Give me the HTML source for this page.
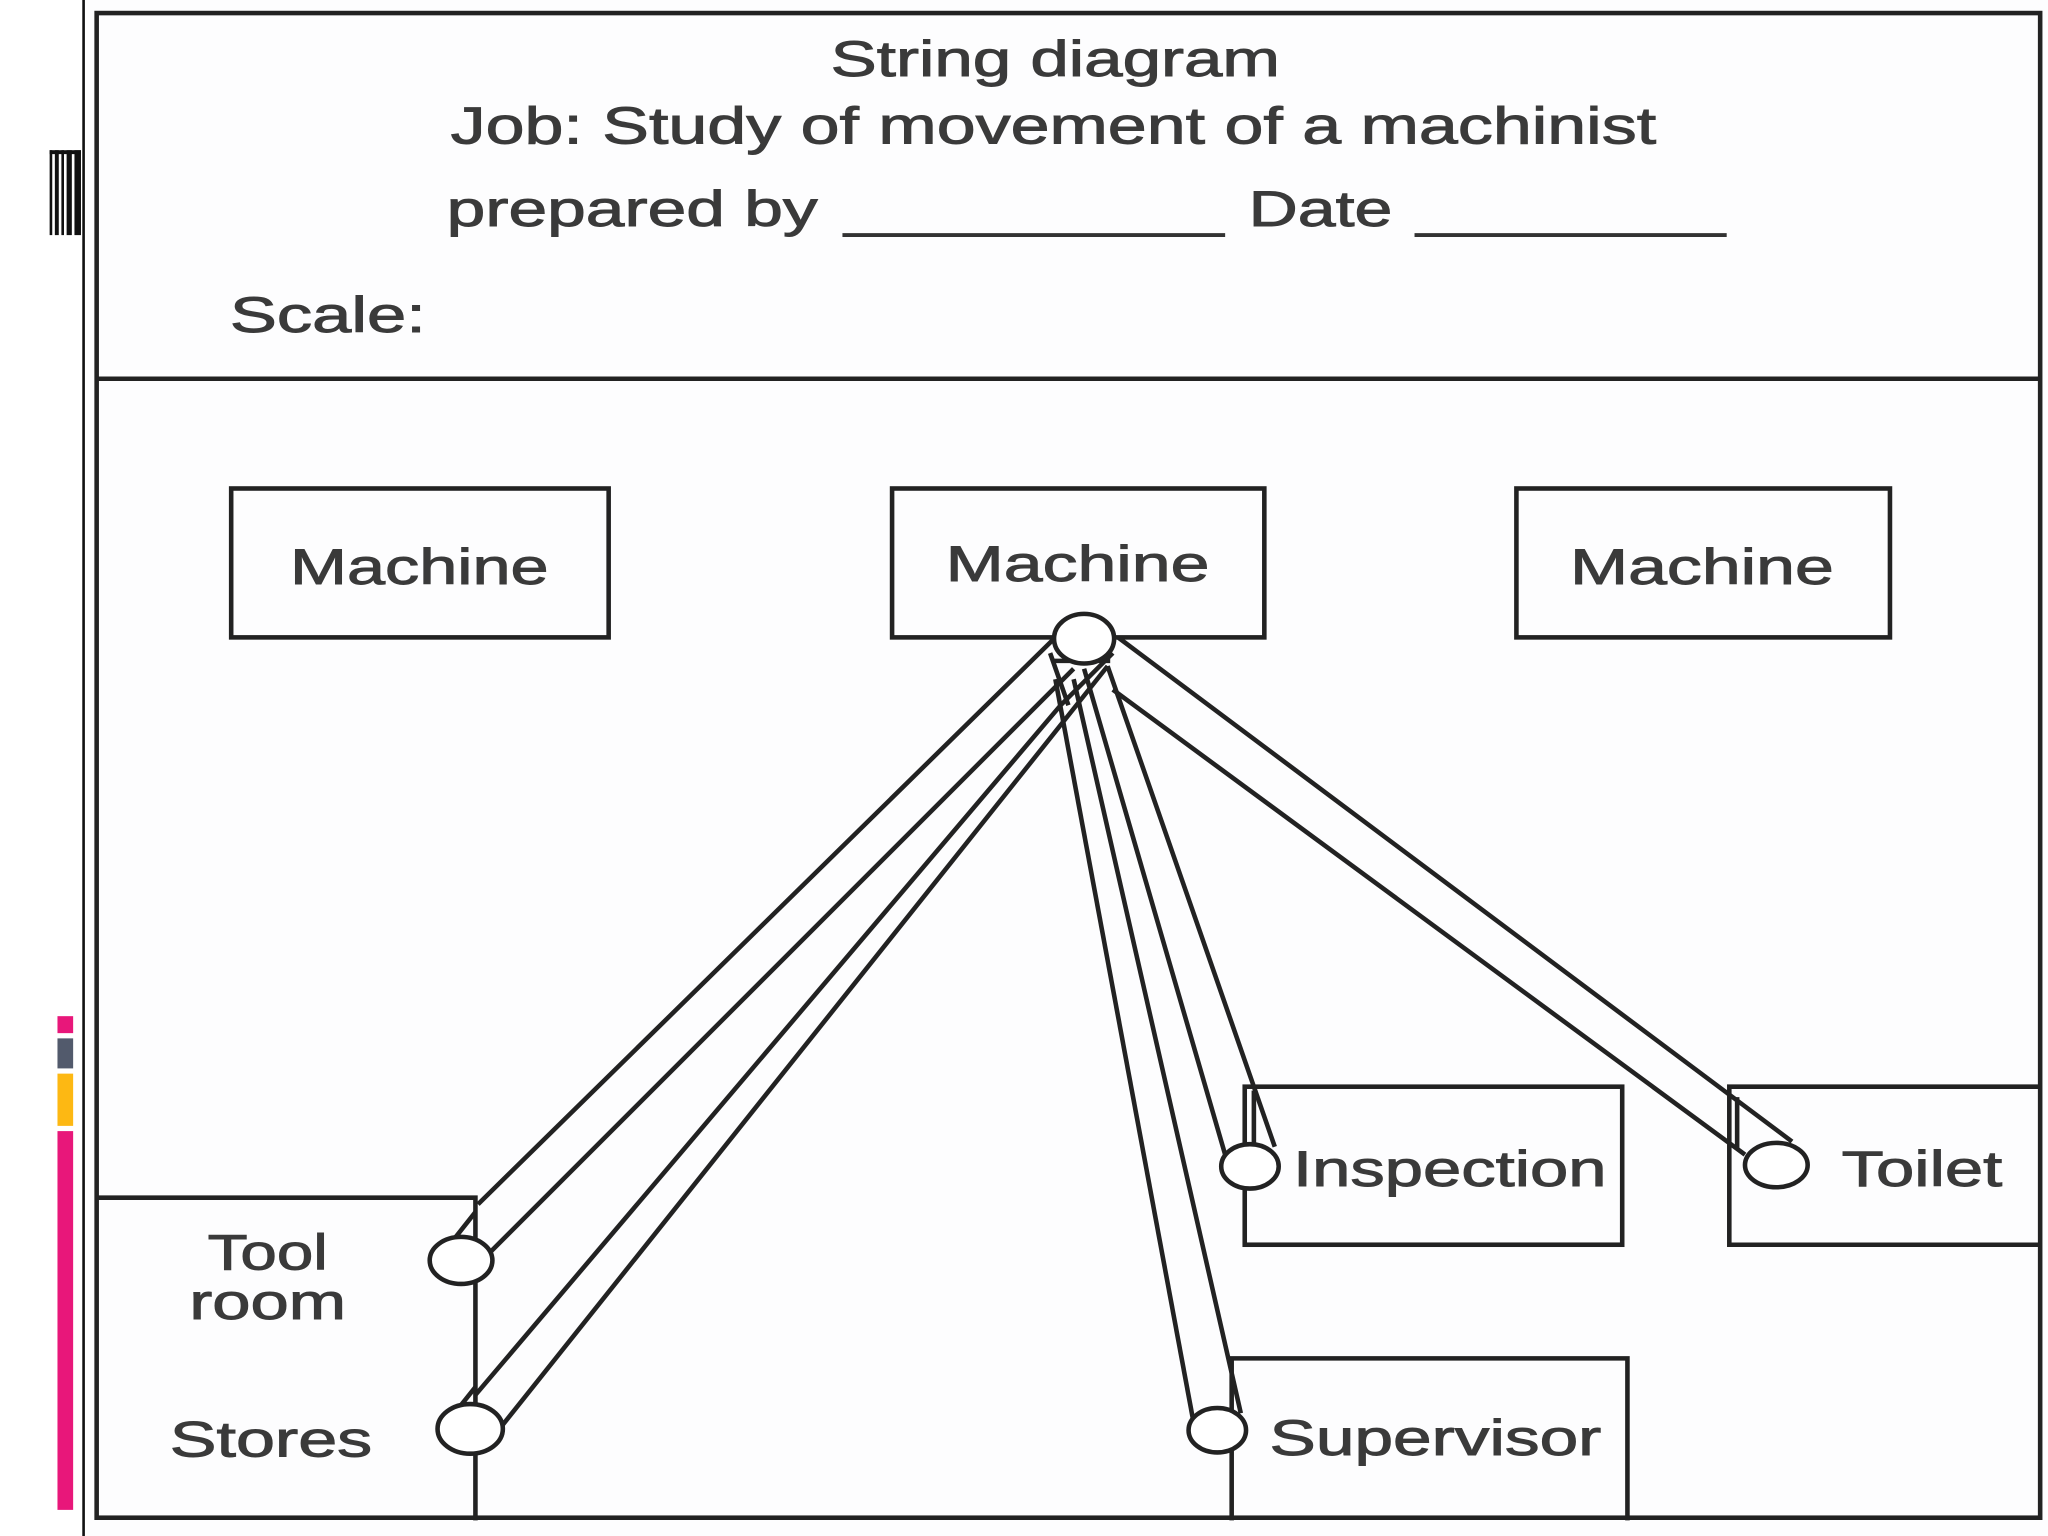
<!DOCTYPE html>
<html><head><meta charset="utf-8"><style>
html,body{margin:0;padding:0;background:#fff;}
svg{display:block;}
text{font-family:"Liberation Sans",Arial,sans-serif;fill:#3a3a3a;stroke:#3a3a3a;stroke-width:0.7;}
</style></head><body>
<svg width="2048" height="1536" viewBox="0 0 1568 1176" preserveAspectRatio="none" xmlns="http://www.w3.org/2000/svg">
<rect x="0" y="0" width="1568" height="1176" fill="#fff"/>
<rect x="66" y="0" width="1502" height="1176" fill="#fdfdfe"/>
<line x1="64" y1="0" x2="64" y2="1176" stroke="#111" stroke-width="2"/>
<g fill="#111">
<rect x="38" y="115" width="2" height="65"/>
<rect x="42" y="115" width="3" height="65"/>
<rect x="47" y="115" width="2" height="65"/>
<rect x="51" y="115" width="4" height="65"/>
<rect x="57" y="115" width="5" height="65"/>
<rect x="38" y="115" width="24" height="3"/>
</g>
<rect x="44" y="778" width="12" height="13" fill="#e8177a"/>
<rect x="44" y="795" width="12" height="23" fill="#525a6c"/>
<rect x="44" y="822" width="12" height="40" fill="#fdb813"/>
<rect x="44" y="866" width="12" height="290" fill="#e8177a"/>
<g fill="none" stroke="#222" stroke-width="3.5">
<rect x="74" y="10" width="1488" height="1152"/>
<line x1="74" y1="290" x2="1562" y2="290"/>
<rect x="177" y="374" width="289" height="114"/>
<rect x="683" y="374" width="285" height="114"/>
<rect x="1161" y="374" width="286" height="114"/>
<polyline points="74,917 364,917 364,1164"/>
<rect x="953" y="832" width="289" height="121"/>
<polyline points="1562,832 1324,832 1324,953 1562,953"/>
<polyline points="943,1164 943,1040 1246,1040 1246,1164"/>
</g>
<text x="636" y="58" font-size="38" textLength="344" lengthAdjust="spacingAndGlyphs">String diagram</text>
<text x="345" y="110" font-size="40" textLength="923" lengthAdjust="spacingAndGlyphs">Job: Study of movement of a machinist</text>
<text x="342" y="173" font-size="38" textLength="284" lengthAdjust="spacingAndGlyphs">prepared by</text>
<line x1="645" y1="180" x2="938" y2="180" stroke="#333" stroke-width="3"/>
<text x="956" y="173" font-size="38" textLength="110" lengthAdjust="spacingAndGlyphs">Date</text>
<line x1="1083" y1="180" x2="1322" y2="180" stroke="#333" stroke-width="3"/>
<text x="176" y="254" font-size="38" textLength="150" lengthAdjust="spacingAndGlyphs">Scale:</text>
<text x="222" y="447" font-size="38" textLength="198" lengthAdjust="spacingAndGlyphs">Machine</text>
<text x="724" y="445" font-size="38" textLength="202" lengthAdjust="spacingAndGlyphs">Machine</text>
<text x="1202" y="447" font-size="38" textLength="202" lengthAdjust="spacingAndGlyphs">Machine</text>
<text x="159" y="972" font-size="38" textLength="92" lengthAdjust="spacingAndGlyphs">Tool</text>
<text x="145" y="1010" font-size="38" textLength="120" lengthAdjust="spacingAndGlyphs">room</text>
<text x="130" y="1115" font-size="38" textLength="155" lengthAdjust="spacingAndGlyphs">Stores</text>
<text x="990" y="908" font-size="38" textLength="240" lengthAdjust="spacingAndGlyphs">Inspection</text>
<text x="1410" y="908" font-size="38" textLength="123" lengthAdjust="spacingAndGlyphs">Toilet</text>
<text x="972" y="1114" font-size="38" textLength="254" lengthAdjust="spacingAndGlyphs">Supervisor</text>
<g stroke="#222" stroke-width="3.5" fill="none">
<line x1="856" y1="488" x2="1372" y2="874"/>
<line x1="852" y1="528" x2="1336" y2="884"/>
<line x1="1330" y1="840" x2="1330" y2="880"/>
<line x1="848" y1="510" x2="976" y2="878"/>
<line x1="830" y1="512" x2="938" y2="884"/>
<line x1="960" y1="835" x2="960" y2="875"/>
<line x1="808" y1="520" x2="914" y2="1090"/>
<line x1="822" y1="520" x2="950" y2="1082"/>
<line x1="806" y1="490" x2="366" y2="922"/>
<line x1="822" y1="512" x2="372" y2="962"/>
<line x1="364" y1="928" x2="345" y2="952"/>
<line x1="812" y1="540" x2="364" y2="1068"/>
<line x1="848" y1="510" x2="384" y2="1092"/>
<line x1="364" y1="1062" x2="348" y2="1082"/>
<line x1="804" y1="500" x2="818" y2="540"/>
<line x1="852" y1="500" x2="812" y2="540"/>
<line x1="806" y1="506" x2="850" y2="506"/>
</g>
<g stroke="#222" stroke-width="3.5" fill="#fff">
<ellipse cx="830" cy="489" rx="23" ry="19"/>
<ellipse cx="353" cy="965" rx="24" ry="18"/>
<ellipse cx="360" cy="1094" rx="25" ry="19"/>
<ellipse cx="957" cy="893" rx="22" ry="17"/>
<ellipse cx="1360" cy="892" rx="24" ry="17"/>
<ellipse cx="932" cy="1095" rx="22" ry="17"/>
</g>
</svg>
</body></html>
